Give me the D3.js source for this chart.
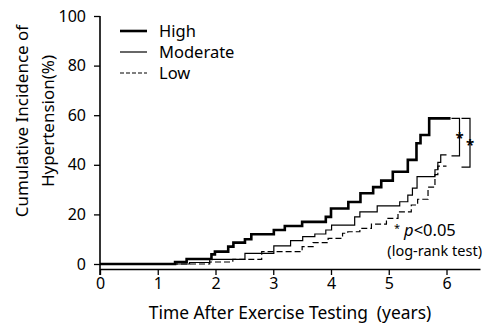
<!DOCTYPE html>
<html>
<head>
<meta charset="utf-8">
<script src="https://cdn.jsdelivr.net/npm/d3@7"></script>
<style>
    body { margin: 0; background: #fff; }
    text { font-family: "Noto Sans", sans-serif; fill: #000; }
</style>
</head>
<body>
<svg id="chart" width="483" height="330"></svg>
<script>
// step points [years, cumulative incidence %]
const highSteps = [
    [0, 0], [1.3, 0.8], [1.5, 2], [1.93, 3.9], [1.99, 5], [2.22, 7], [2.31, 8.6], [2.51, 10],
    [2.62, 12], [3.01, 13.7], [3.2, 15.3], [3.5, 17], [3.91, 19], [4.0, 22.4], [4.3, 25],
    [4.51, 28.5], [4.73, 31], [4.87, 33.6], [5.07, 37.2], [5.33, 42], [5.48, 48.7], [5.55, 52],
    [5.7, 58.7], [6.07, 58.7],
];
const moderateSteps = [
    [0, 0], [1.55, 0.6], [1.9, 1.9], [2.51, 4.3], [3.01, 7.3], [3.3, 9.4], [3.51, 11], [3.72, 12.1],
    [3.91, 13.7], [4.01, 15.7], [4.41, 19], [4.5, 21], [4.8, 23.4], [5.19, 25.1], [5.33, 27.8],
    [5.41, 30.6], [5.49, 35.2], [5.8, 38], [5.85, 41], [5.9, 44], [6.0, 44],
];
const lowSteps = [
    [0, 0], [1.9, 0.8], [2.3, 1.9], [2.8, 5], [3.5, 7], [3.69, 8.6], [3.95, 10.3], [4.2, 12.4],
    [4.29, 13], [4.5, 14.4], [4.7, 16.1], [4.96, 18.4], [5.16, 21], [5.39, 23.8], [5.5, 26.1],
    [5.68, 31], [5.8, 36], [5.85, 39.5], [6.0, 39.5],
];
const xTicks = [0, 1, 2, 3, 4, 5, 6];
const yTicks = [0, 20, 40, 60, 80, 100];
const groups = ['High', 'Moderate', 'Low'];

const X_AXIS_Y = 269;

const svg = d3.select('#chart');

const x = d3.scaleLinear().domain([0, 6.58]).range([100, 480]);
const y = d3.scaleLinear().domain([0, 100]).range([264, 16]);

const styles = {
    High: { width: 2.6, dash: null, legendDash: null },
    Moderate: { width: 1.2, dash: null, legendDash: null },
    Low: { width: 1.2, dash: '6,3', legendDash: '4,2' },
};

// x axis
const xAxis = svg
    .append('g')
    .attr('transform', `translate(0,${X_AXIS_Y})`)
    .call(
        d3.axisBottom(x).tickValues(xTicks).tickFormat(d3.format('d'))
            .tickSize(6).tickPadding(3).tickSizeOuter(0),
    );
xAxis.select('.domain').attr('stroke-width', 1.6);
xAxis.selectAll('.tick line').attr('stroke-width', 1.3);
xAxis.selectAll('.tick text').attr('font-size', 16).attr('font-family', '"Noto Sans", sans-serif');

// y axis
const yAxis = svg
    .append('g')
    .attr('transform', 'translate(100,0)')
    .call(d3.axisLeft(y).tickValues(yTicks).tickSize(6).tickPadding(8).tickSizeOuter(0));
yAxis.select('.domain').attr('d', `M0,${y(100)}V${X_AXIS_Y + 6}`).attr('stroke-width', 1.6);
yAxis.selectAll('.tick line').attr('stroke-width', 1.3);
yAxis.selectAll('.tick text').attr('font-size', 16).attr('font-family', '"Noto Sans", sans-serif');

// curves
const line = d3
    .line()
    .x((d) => x(d[0]))
    .y((d) => y(d[1]))
    .curve(d3.curveStepAfter);

const series = [
    { name: 'Low', data: lowSteps },
    { name: 'Moderate', data: moderateSteps },
    { name: 'High', data: highSteps },
];
svg.append('g')
    .selectAll('path')
    .data(series)
    .join('path')
    .attr('d', (d) => line(d.data))
    .attr('fill', 'none')
    .attr('stroke', '#000')
    .attr('stroke-width', (d) => styles[d.name].width)
    .attr('stroke-dasharray', (d) => styles[d.name].dash);

// legend
const legend = svg.append('g');
groups.forEach((g, i) => {
    const ly = 31 + i * 21;
    legend
        .append('line')
        .attr('x1', 120)
        .attr('x2', 147)
        .attr('y1', ly)
        .attr('y2', ly)
        .attr('stroke', '#000')
        .attr('stroke-width', styles[g].width)
        .attr('stroke-dasharray', styles[g].legendDash);
    legend
        .append('text')
        .attr('x', 159)
        .attr('y', ly + 5.5)
        .attr('font-size', 16.5)
        .text(g);
});

// significance brackets
const highEnd = highSteps[highSteps.length - 1][1];
const modEnd = moderateSteps[moderateSteps.length - 1][1];
const lowEnd = lowSteps[lowSteps.length - 1][1];
const bracket = (x0, x1, v0, v1) => `M${x0},${y(v0)}H${x1}V${y(v1) + 1}H${x0}`;
svg.append('path')
    .attr('d', bracket(451.5, 459.5, highEnd, modEnd))
    .attr('fill', 'none')
    .attr('stroke', '#000')
    .attr('stroke-width', 1.2);
svg.append('path')
    .attr('d', bracket(461.5, 470, highEnd, lowEnd))
    .attr('fill', 'none')
    .attr('stroke', '#000')
    .attr('stroke-width', 1.2);
svg.append('text').attr('x', 459.5).attr('y', 135).attr('dy', '0.55em').attr('text-anchor', 'middle')
    .attr('font-size', 15).attr('font-weight', 'bold').text('*');
svg.append('text').attr('x', 470).attr('y', 142).attr('dy', '0.55em').attr('text-anchor', 'middle')
    .attr('font-size', 15).attr('font-weight', 'bold').text('*');

// p-value note
const note = svg.append('text').attr('x', 394).attr('y', 235.5).attr('font-size', 16.5);
note.append('tspan').attr('font-size', 11).attr('dy', -4).text('*');
note.append('tspan').attr('dx', 4).attr('dy', 4).attr('font-style', 'italic').text('p');
note.append('tspan').text('<0.05');
svg.append('text').attr('x', 482).attr('y', 255.5).attr('text-anchor', 'end').attr('font-size', 14.5)
    .text('(log-rank test)');

// axis titles
svg.append('text')
    .attr('x', 290)
    .attr('y', 319)
    .attr('text-anchor', 'middle')
    .attr('font-size', 17.4)
    .attr('xml:space', 'preserve')
    .text('Time After Exercise Testing  (years)');

const yTitle = svg.append('g').attr('transform', 'translate(0,121) rotate(-90)');
yTitle.append('text').attr('x', 0).attr('y', 28).attr('text-anchor', 'middle').attr('font-size', 17)
    .text('Cumulative Incidence of');
yTitle.append('text').attr('x', 0).attr('y', 54).attr('text-anchor', 'middle').attr('font-size', 17)
    .text('Hypertension(%)');
</script>
</body>
</html>
